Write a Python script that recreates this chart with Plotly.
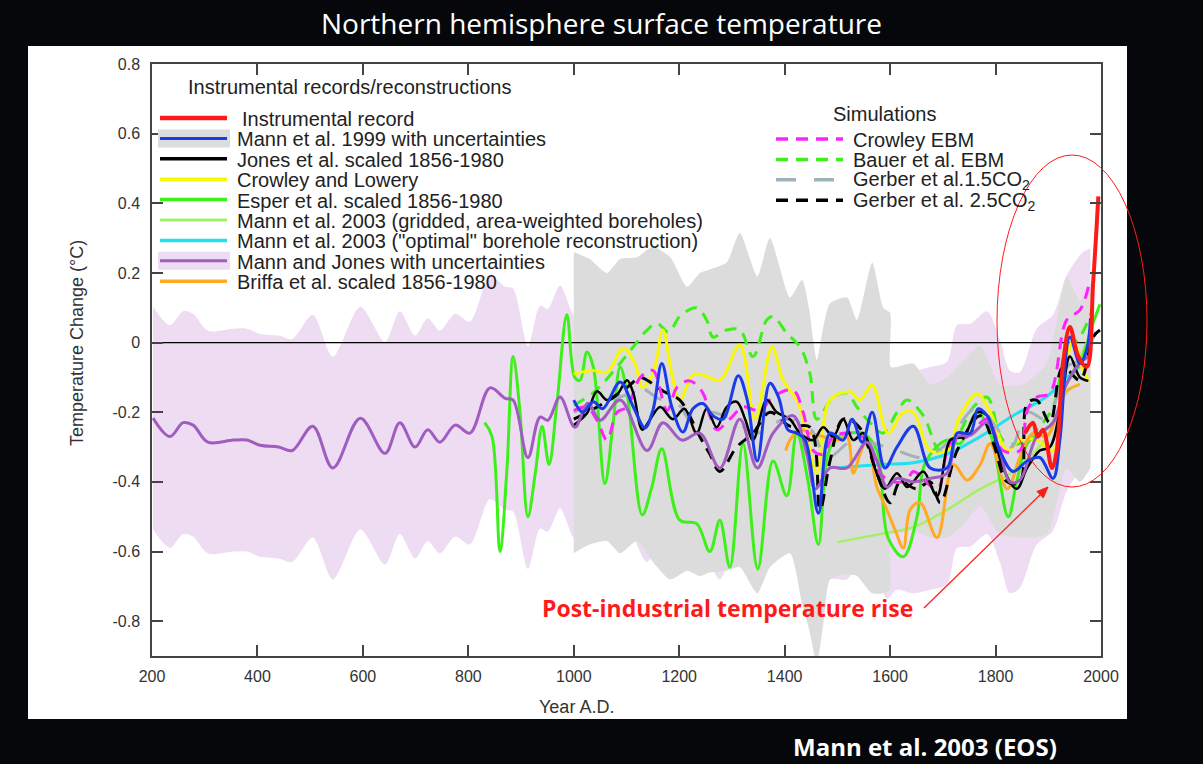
import plotly.graph_objects as go

# ---------------- data ----------------
x_tick_vals = [200, 400, 600, 800, 1000, 1200, 1400, 1600, 1800, 2000]
y_tick_vals = [-0.8, -0.6, -0.4, -0.2, 0, 0.2, 0.4, 0.6, 0.8]
y_tick_text = ["-0.8", "-0.6", "-0.4", "-0.2", "0", "0.2", "0.4", "0.6", "0.8"]
X_RANGE = [200, 2000]
Y_RANGE = [-0.9, 0.8]

# Mann and Jones (purple) with uncertainties
mj_years = [202, 234, 259, 278, 306, 354, 380, 405, 440, 466, 505, 543, 595, 642, 670, 699,
            723, 746, 775, 803, 841, 870, 885, 913, 936, 951, 974, 1002, 1027, 1050, 1088,
            1139, 1169, 1205, 1239, 1277, 1315, 1348, 1378, 1416, 1442, 1458, 1486, 1518,
            1556, 1575, 1594, 1613, 1644, 1676, 1708, 1727, 1752, 1784, 1808, 1827, 1846,
            1878, 1909, 1935, 1966, 1980]
mj_vals = [-0.217, -0.27, -0.23, -0.237, -0.286, -0.28, -0.28, -0.295, -0.30, -0.31, -0.24,
           -0.36, -0.217, -0.318, -0.23, -0.30, -0.25, -0.286, -0.237, -0.26, -0.13, -0.16,
           -0.165, -0.33, -0.214, -0.223, -0.156, -0.243, -0.174, -0.223, -0.165, -0.31,
           -0.23, -0.28, -0.26, -0.36, -0.22, -0.36, -0.26, -0.21, -0.32, -0.42, -0.36,
           -0.36, -0.286, -0.34, -0.415, -0.39, -0.40, -0.39, -0.375, -0.27, -0.266, -0.23,
           -0.31, -0.40, -0.395, -0.27, -0.23, -0.117, -0.05, -0.04]
mj_unc = [0.32] * 56 + [0.31, 0.31, 0.31, 0.31, 0.31, 0.31]

# Mann et al. 1999 uncertainty band (grey)
m99_band_years = [1000, 1030, 1063, 1088, 1120, 1150, 1183, 1215, 1239, 1258, 1290, 1315,
                  1348, 1372, 1410, 1433, 1446, 1461, 1474, 1486, 1518, 1537, 1566, 1587,
                  1600, 1601, 1613, 1644, 1676, 1708, 1740, 1771, 1808, 1852, 1897, 1935,
                  1960, 1980]
m99_upper = [0.26, 0.24, 0.20, 0.24, 0.245, 0.275, 0.245, 0.16, 0.20, 0.21, 0.23, 0.315,
             0.19, 0.30, 0.13, 0.18, 0.10, -0.05, 0.05, 0.113, 0.13, 0.065, 0.23, 0.10,
             0.085, -0.07, -0.07, -0.06, -0.12, -0.10, -0.05, -0.01, -0.12, -0.12, -0.06,
             0.19, 0.12, 0.17]
m99_lower = [-0.605, -0.58, -0.57, -0.605, -0.57, -0.63, -0.68, -0.655, -0.67, -0.66,
             -0.655, -0.645, -0.72, -0.645, -0.605, -0.75, -0.82, -0.92, -0.80, -0.68,
             -0.665, -0.67, -0.72, -0.72, -0.71, -0.55, -0.55, -0.54, -0.56, -0.56, -0.52,
             -0.47, -0.55, -0.56, -0.55, -0.36, -0.40, -0.36]

# Mann et al. 1999 (blue)
m99_years = [1000, 1017, 1037, 1055, 1088, 1113, 1135, 1150, 1167, 1186, 1207, 1226, 1245,
             1264, 1283, 1312, 1329, 1348, 1372, 1388, 1406, 1423, 1439, 1464, 1486, 1511,
             1528, 1547, 1566, 1590, 1613, 1644, 1676, 1708, 1727, 1752, 1767, 1784, 1808,
             1833, 1860, 1884, 1909, 1922, 1941, 1960, 1973, 1980]
m99_vals = [-0.165, -0.20, -0.17, -0.19, -0.113, -0.185, -0.245, -0.195, -0.06, -0.185,
            -0.257, -0.19, -0.175, -0.21, -0.22, -0.095, -0.165, -0.34, -0.117, -0.155,
            -0.25, -0.26, -0.28, -0.49, -0.26, -0.28, -0.22, -0.286, -0.20, -0.36, -0.30,
            -0.24, -0.36, -0.36, -0.26, -0.26, -0.19, -0.21, -0.31, -0.37, -0.34, -0.33,
            -0.39, -0.28, 0.016, -0.06, -0.02, 0.07]

# Jones et al. (black)
jones_years = [1000, 1025, 1044, 1063, 1082, 1101, 1113, 1130, 1145, 1164, 1188, 1210, 1233,
               1252, 1271, 1290, 1309, 1325, 1340, 1366, 1385, 1410, 1429, 1454, 1473, 1492,
               1511, 1530, 1549, 1571, 1590, 1613, 1632, 1644, 1663, 1689, 1714, 1739, 1765,
               1784, 1814, 1840, 1860, 1884, 1903, 1926, 1941, 1960, 1976]
jones_vals = [-0.237, -0.203, -0.14, -0.165, -0.15, -0.108, -0.145, -0.25, -0.22, -0.185,
              -0.22, -0.19, -0.26, -0.19, -0.243, -0.185, -0.17, -0.22, -0.28, -0.165, -0.20,
              -0.22, -0.26, -0.28, -0.243, -0.27, -0.22, -0.28, -0.26, -0.36, -0.42, -0.375,
              -0.415, -0.40, -0.37, -0.44, -0.28, -0.27, -0.20, -0.21, -0.36, -0.42, -0.36,
              -0.31, -0.30, -0.156, -0.04, -0.10, -0.11]

# Crowley and Lowery (yellow)
cl_years = [1000, 1037, 1063, 1094, 1116, 1130, 1150, 1169, 1186, 1201, 1226, 1245, 1277,
            1315, 1344, 1376, 1397, 1423, 1439, 1461, 1486, 1524, 1543, 1566, 1596, 1625,
            1644, 1676, 1708, 1733, 1765, 1790, 1822, 1846, 1878, 1909, 1928, 1947, 1966, 1977]
cl_vals = [-0.09, -0.08, -0.085, -0.016, -0.06, -0.128, -0.09, 0.036, -0.09, -0.165, -0.093,
           -0.093, -0.108, -0.007, -0.22, -0.013, -0.108, -0.165, -0.243, -0.375, -0.165,
           -0.142, -0.165, -0.122, -0.26, -0.20, -0.20, -0.31, -0.31, -0.21, -0.147, -0.20,
           -0.31, -0.28, -0.28, -0.31, -0.117, 0.007, -0.08, -0.11]

# Esper et al. (green)
esper_years = [831, 845, 860, 873, 885, 898, 913, 927, 940, 953, 968, 987, 1002, 1012, 1025,
               1037, 1059, 1074, 1088, 1101, 1130, 1148, 1167, 1201, 1233, 1258, 1277, 1296,
               1321, 1349, 1378, 1404, 1423, 1444, 1464, 1482, 1501, 1524, 1549, 1575, 1596,
               1625, 1651, 1663, 1682, 1708, 1733, 1765, 1790, 1824, 1840, 1860, 1884, 1909,
               1935, 1960, 1985, 1998]
esper_vals = [-0.23, -0.27, -0.60, -0.37, -0.04, -0.20, -0.50, -0.375, -0.24, -0.35, -0.175,
              0.08, -0.10, -0.108, -0.027, -0.07, -0.405, -0.24, -0.07, -0.145, -0.495,
              -0.415, -0.305, -0.51, -0.52, -0.60, -0.51, -0.645, -0.29, -0.65, -0.34, -0.44,
              -0.26, -0.395, -0.58, -0.32, -0.27, -0.26, -0.26, -0.31, -0.56, -0.615, -0.50,
              -0.36, -0.31, -0.28, -0.29, -0.20, -0.26, -0.50, -0.40, -0.29, -0.26, -0.23,
              -0.117, -0.06, 0.056, 0.11]

# Mann et al. 2003 gridded boreholes (light green)
grid_years = [1500, 1581, 1644, 1708, 1771, 1833, 1897, 1935, 1973]
grid_vals = [-0.573, -0.55, -0.53, -0.48, -0.42, -0.37, -0.27, -0.12, 0.0]

# Mann et al. 2003 optimal borehole (cyan)
opt_years = [1500, 1581, 1644, 1708, 1771, 1833, 1897, 1935, 1966]
opt_vals = [-0.36, -0.35, -0.345, -0.32, -0.27, -0.21, -0.155, -0.10, -0.06]

# Briffa et al. (orange)
briffa_years = [1402, 1410, 1429, 1448, 1473, 1499, 1518, 1530, 1543, 1556, 1575, 1594, 1610,
                1625, 1638, 1657, 1689, 1720, 1746, 1771, 1790, 1822, 1846, 1871, 1897, 1916,
                1935, 1960]
briffa_vals = [-0.31, -0.28, -0.25, -0.26, -0.27, -0.28, -0.27, -0.375, -0.32, -0.28, -0.415,
               -0.48, -0.54, -0.59, -0.48, -0.46, -0.56, -0.35, -0.395, -0.35, -0.29, -0.42,
               -0.33, -0.26, -0.27, -0.21, -0.14, -0.12]

# Instrumental record (red)
inst_years = [1856, 1871, 1880, 1890, 1907, 1916, 1928, 1941, 1957, 1973, 1985, 1995]
inst_vals = [-0.26, -0.23, -0.27, -0.25, -0.36, -0.31, -0.06, 0.045, -0.04, -0.07, 0.17, 0.42]

# Simulations
crowley_years = [1000, 1025, 1044, 1063, 1082, 1101, 1126, 1150, 1177, 1196, 1220, 1245, 1258,
                 1271, 1296, 1321, 1353, 1378, 1416, 1435, 1454, 1473, 1492, 1524, 1556, 1581,
                 1606, 1632, 1644, 1689, 1714, 1746, 1784, 1814, 1846, 1860, 1878, 1903, 1935,
                 1960, 1976]
crowley_vals = [-0.195, -0.185, -0.223, -0.28, -0.20, -0.185, -0.10, -0.08, -0.195, -0.128,
                -0.11, -0.145, -0.21, -0.25, -0.22, -0.185, -0.195, -0.155, -0.137, -0.20,
                -0.31, -0.32, -0.27, -0.26, -0.28, -0.375, -0.40, -0.395, -0.37, -0.42, -0.29,
                -0.27, -0.22, -0.31, -0.31, -0.195, -0.157, -0.145, 0.065, 0.093, 0.16]

bauer_years = [1000, 1040, 1082, 1113, 1139, 1158, 1180, 1201, 1233, 1252, 1264, 1290, 1315,
               1340, 1366, 1378, 1404, 1429, 1448, 1461, 1492, 1518, 1537, 1562, 1587, 1613,
               1632, 1663, 1695, 1727, 1758, 1784, 1814, 1846, 1878, 1909, 1935, 1960, 1985]
bauer_vals = [-0.18, -0.14, -0.07, -0.012, 0.036, 0.055, 0.03, 0.075, 0.10, 0.065, 0.016,
              0.036, 0.036, -0.04, 0.065, 0.075, 0.027, -0.012, -0.09, -0.22, -0.157, -0.145,
              -0.185, -0.23, -0.26, -0.20, -0.165, -0.21, -0.31, -0.27, -0.185, -0.157, -0.28,
              -0.29, -0.25, -0.185, -0.02, 0.016, 0.10]

gerber15_years = [1000, 1050, 1100, 1126, 1160, 1200, 1220, 1260, 1300, 1348, 1400, 1450,
                  1480, 1530, 1570, 1613, 1660, 1700, 1765, 1800, 1830, 1860, 1897, 1935,
                  1960, 1990]
gerber15_vals = [-0.20, -0.17, -0.15, -0.13, -0.16, -0.18, -0.22, -0.20, -0.22, -0.26, -0.22,
                 -0.25, -0.33, -0.28, -0.29, -0.31, -0.33, -0.30, -0.185, -0.24, -0.30, -0.20,
                 -0.22, -0.07, -0.05, 0.03]

gerber25_years = [1000, 1050, 1100, 1126, 1139, 1170, 1201, 1239, 1258, 1277, 1309, 1340,
                  1372, 1410, 1448, 1467, 1486, 1511, 1540, 1575, 1600, 1619, 1650, 1676,
                  1695, 1727, 1771, 1796, 1822, 1846, 1860, 1878, 1903, 1928, 1960, 1985, 1998]
gerber25_vals = [-0.22, -0.18, -0.13, -0.10, -0.108, -0.14, -0.165, -0.27, -0.32, -0.37,
                 -0.30, -0.26, -0.20, -0.24, -0.243, -0.48, -0.34, -0.22, -0.24, -0.375, -0.46,
                 -0.40, -0.42, -0.40, -0.46, -0.31, -0.21, -0.29, -0.40, -0.40, -0.175, -0.165,
                 -0.23, -0.07, -0.108, 0.016, 0.036]

# ---------------- styles ----------------
C_PURPLE_BAND = "#eddcf2"
C_PURPLE = "#a05cc0"
C_GREY_BAND = "#dcdcdc"
C_BLUE = "#1a3be8"
C_BLACK = "#000000"
C_YELLOW = "#f8f800"
C_GREEN = "#3ef01a"
C_LGREEN = "#a4f064"
C_CYAN = "#22e0f0"
C_ORANGE = "#ffaa22"
C_RED = "#ff1a1a"
C_MAGENTA = "#ff22ff"
C_GBLUE = "#a0b2ba"
DASH_SHORT = "12px,8px"
DASH_LONG = "20px,18px"
FONT = "Liberation Sans, Arial, sans-serif"
TXT = "#222222"
LEG_SIZE = 20

W, H = 1203, 764
L, R, T, B = 152, 1101, 64, 656


def pxx(x):
    return (x - L) / (R - L)


def pxy(y):
    return (B - y) / (B - T)


fig = go.Figure()

# purple band
fig.add_trace(go.Scatter(x=mj_years, y=[v + u for v, u in zip(mj_vals, mj_unc)], mode="lines",
                         line=dict(width=0, shape="spline", smoothing=0.8), hoverinfo="skip",
                         showlegend=False))
fig.add_trace(go.Scatter(x=mj_years, y=[v - u for v, u in zip(mj_vals, mj_unc)], mode="lines",
                         line=dict(width=0, shape="spline", smoothing=0.8), fill="tonexty",
                         fillcolor=C_PURPLE_BAND, hoverinfo="skip", showlegend=False))
# grey band
fig.add_trace(go.Scatter(x=m99_band_years, y=m99_upper, mode="lines",
                         line=dict(width=0, shape="spline", smoothing=0.6), hoverinfo="skip",
                         showlegend=False))
fig.add_trace(go.Scatter(x=m99_band_years, y=m99_lower, mode="lines",
                         line=dict(width=0, shape="spline", smoothing=0.6), fill="tonexty",
                         fillcolor=C_GREY_BAND, hoverinfo="skip", showlegend=False))
# zero line
fig.add_trace(go.Scatter(x=X_RANGE, y=[0, 0], mode="lines", line=dict(color="black", width=1.2),
                         hoverinfo="skip", showlegend=False))


def add_line(xs, ys, color, width=3, dash="solid", name=""):
    fig.add_trace(go.Scatter(x=xs, y=ys, mode="lines", name=name, showlegend=False,
                             line=dict(color=color, width=width, dash=dash, shape="spline",
                                       smoothing=1.0)))


add_line(grid_years, grid_vals, C_LGREEN, 2.5, name="Mann et al. 2003 (gridded)")
add_line(opt_years, opt_vals, C_CYAN, 3, name="Mann et al. 2003 (optimal)")
add_line(esper_years, esper_vals, C_GREEN, 3, name="Esper et al.")
add_line(bauer_years, bauer_vals, C_GREEN, 3, DASH_SHORT, name="Bauer et al. EBM")
add_line(cl_years, cl_vals, C_YELLOW, 3, name="Crowley and Lowery")
add_line(briffa_years, briffa_vals, C_ORANGE, 3, name="Briffa et al.")
add_line(gerber15_years, gerber15_vals, C_GBLUE, 3, DASH_LONG, name="Gerber 1.5CO2")
add_line(gerber25_years, gerber25_vals, C_BLACK, 3, DASH_SHORT, name="Gerber 2.5CO2")
add_line(crowley_years, crowley_vals, C_MAGENTA, 3, DASH_SHORT, name="Crowley EBM")
add_line(jones_years, jones_vals, C_BLACK, 2.5, name="Jones et al.")
add_line(mj_years, mj_vals, C_PURPLE, 3, name="Mann and Jones")
add_line(m99_years, m99_vals, C_BLUE, 3, name="Mann et al. 1999")
add_line(inst_years, inst_vals, C_RED, 4, name="Instrumental record")

shapes = []
annotations = []

# white panel
shapes.append(dict(type="rect", xref="paper", yref="paper", x0=pxx(28), x1=pxx(1127),
                   y0=pxy(719), y1=pxy(46), fillcolor="white", line=dict(width=0),
                   layer="below"))

# left legend
left_items = [
    ("Instrumental record", C_RED, "solid", 4.5, None),
    ("Mann et al. 1999 with uncertainties", C_BLUE, "solid", 3, C_GREY_BAND),
    ("Jones et al. scaled 1856-1980", C_BLACK, "solid", 3.5, None),
    ("Crowley and Lowery", C_YELLOW, "solid", 3.5, None),
    ("Esper et al. scaled 1856-1980", C_GREEN, "solid", 3.5, None),
    ("Mann et al. 2003 (gridded, area-weighted boreholes)", C_LGREEN, "solid", 3, None),
    ("Mann et al. 2003 (\"optimal\" borehole reconstruction)", C_CYAN, "solid", 3.5, None),
    ("Mann and Jones with uncertainties", C_PURPLE, "solid", 3, C_PURPLE_BAND),
    ("Briffa et al. scaled 1856-1980", C_ORANGE, "solid", 3.5, None),
]
annotations.append(dict(xref="paper", yref="paper", x=pxx(186), y=pxy(87), xanchor="left",
                        yanchor="middle", showarrow=False,
                        text="Instrumental records/reconstructions",
                        font=dict(family=FONT, size=LEG_SIZE, color=TXT)))
for i, (label, col, dash, lw, band) in enumerate(left_items):
    yy = 118 + i * 20.4
    if band:
        shapes.append(dict(type="rect", xref="paper", yref="paper", x0=pxx(158), x1=pxx(230),
                           y0=pxy(yy + 9), y1=pxy(yy - 9), fillcolor=band, line=dict(width=0)))
    shapes.append(dict(type="line", xref="paper", yref="paper", x0=pxx(160), x1=pxx(227),
                       y0=pxy(yy), y1=pxy(yy), line=dict(color=col, width=lw, dash=dash)))
    annotations.append(dict(xref="paper", yref="paper", x=pxx(240 if i == 0 else 235),
                            y=pxy(yy + 1), xanchor="left", yanchor="middle", showarrow=False,
                            text=label, font=dict(family=FONT, size=LEG_SIZE, color=TXT)))

# right legend
right_items = [
    ("Crowley EBM", C_MAGENTA, DASH_SHORT),
    ("Bauer et al. EBM", C_GREEN, DASH_SHORT),
    ("Gerber et al.1.5CO<sub>2</sub>", C_GBLUE, DASH_LONG),
    ("Gerber et al. 2.5CO<sub>2</sub>", C_BLACK, DASH_SHORT),
]
annotations.append(dict(xref="paper", yref="paper", x=pxx(884), y=pxy(114), xanchor="center",
                        yanchor="middle", showarrow=False, text="Simulations",
                        font=dict(family=FONT, size=LEG_SIZE, color=TXT)))
for i, (label, col, dash) in enumerate(right_items):
    yy = 139 + i * 20.4
    shapes.append(dict(type="line", xref="paper", yref="paper", x0=pxx(776), x1=pxx(843),
                       y0=pxy(yy), y1=pxy(yy), line=dict(color=col, width=3.5, dash=dash)))
    annotations.append(dict(xref="paper", yref="paper", x=pxx(851), y=pxy(yy + 1),
                            xanchor="left", yanchor="middle", showarrow=False, text=label,
                            font=dict(family=FONT, size=LEG_SIZE, color=TXT)))

# highlight ellipse + arrow + label
shapes.append(dict(type="circle", xref="paper", yref="paper", x0=pxx(997), x1=pxx(1147),
                   y0=pxy(487), y1=pxy(155), line=dict(color=C_RED, width=1)))
ARROW_FROM = (924, 608)
ARROW_TO = (1048, 487)
shapes.append(dict(type="line", xref="paper", yref="paper",
                   x0=pxx(ARROW_FROM[0]), y0=pxy(ARROW_FROM[1]),
                   x1=pxx(ARROW_TO[0] - 5), y1=pxy(ARROW_TO[1] + 5),
                   line=dict(color=C_RED, width=1.2)))
# small arrow head
_dx, _dy = ARROW_TO[0] - ARROW_FROM[0], ARROW_TO[1] - ARROW_FROM[1]
_len = (_dx ** 2 + _dy ** 2) ** 0.5
_ux, _uy = _dx / _len, _dy / _len
_bx, _by = ARROW_TO[0] - 11 * _ux, ARROW_TO[1] - 11 * _uy
_p1 = (_bx + 4.5 * _uy, _by - 4.5 * _ux)
_p2 = (_bx - 4.5 * _uy, _by + 4.5 * _ux)
shapes.append(dict(type="path", xref="paper", yref="paper",
                   path="M {:.5f} {:.5f} L {:.5f} {:.5f} L {:.5f} {:.5f} Z".format(
                       pxx(ARROW_TO[0]), pxy(ARROW_TO[1]), pxx(_p1[0]), pxy(_p1[1]),
                       pxx(_p2[0]), pxy(_p2[1])),
                   fillcolor=C_RED, line=dict(color=C_RED, width=1)))
annotations.append(dict(xref="paper", yref="paper", x=pxx(727), y=pxy(608), xanchor="center",
                        yanchor="middle", showarrow=False,
                        text="<b>Post-industrial temperature rise</b>",
                        font=dict(family="Open Sans, DejaVu Sans, sans-serif", size=23,
                                  color=C_RED)))

# axis titles
annotations.append(dict(xref="paper", yref="paper", x=pxx(77), y=pxy(343), xanchor="center",
                        yanchor="middle", showarrow=False, textangle=-90,
                        text="Temperature Change (°C)",
                        font=dict(family=FONT, size=18, color="#333333")))
annotations.append(dict(xref="paper", yref="paper", x=pxx(576), y=pxy(707), xanchor="center",
                        yanchor="middle", showarrow=False, text="Year A.D.",
                        font=dict(family=FONT, size=18, color="#333333")))

# title and credit
annotations.append(dict(xref="paper", yref="paper", x=pxx(601), y=pxy(23), xanchor="center",
                        yanchor="middle", showarrow=False,
                        text="Northern hemisphere surface temperature",
                        font=dict(family="Open Sans, sans-serif", size=28, color="white")))
annotations.append(dict(xref="paper", yref="paper", x=pxx(925), y=pxy(746), xanchor="center",
                        yanchor="middle", showarrow=False, text="<b>Mann et al. 2003 (EOS)</b>",
                        font=dict(family="Open Sans, DejaVu Sans, sans-serif", size=24,
                                  color="white")))

axis_common = dict(showgrid=False, zeroline=False, showline=True, linecolor="#444444",
                   linewidth=1.5, mirror="ticks", ticks="inside", ticklen=11, tickwidth=1.5,
                   tickcolor="#444444", tickfont=dict(family=FONT, size=16, color="#333333"))

fig.update_layout(
    width=W, height=H,
    margin=dict(l=L, r=W - R, t=T, b=H - B, pad=0),
    paper_bgcolor="#05070a", plot_bgcolor="white",
    xaxis=dict(range=X_RANGE, tickvals=x_tick_vals, ticklabelstandoff=5, **axis_common),
    yaxis=dict(range=Y_RANGE, tickvals=y_tick_vals, ticktext=y_tick_text,
               ticklabelstandoff=7, **axis_common),
    shapes=shapes, annotations=annotations, showlegend=False,
)

fig.write_html("out.html", config={"displayModeBar": False},
               post_script="document.body.style.margin='0';"
                           "document.body.style.background='#05070a';"
                           "document.body.style.overflow='hidden';")
